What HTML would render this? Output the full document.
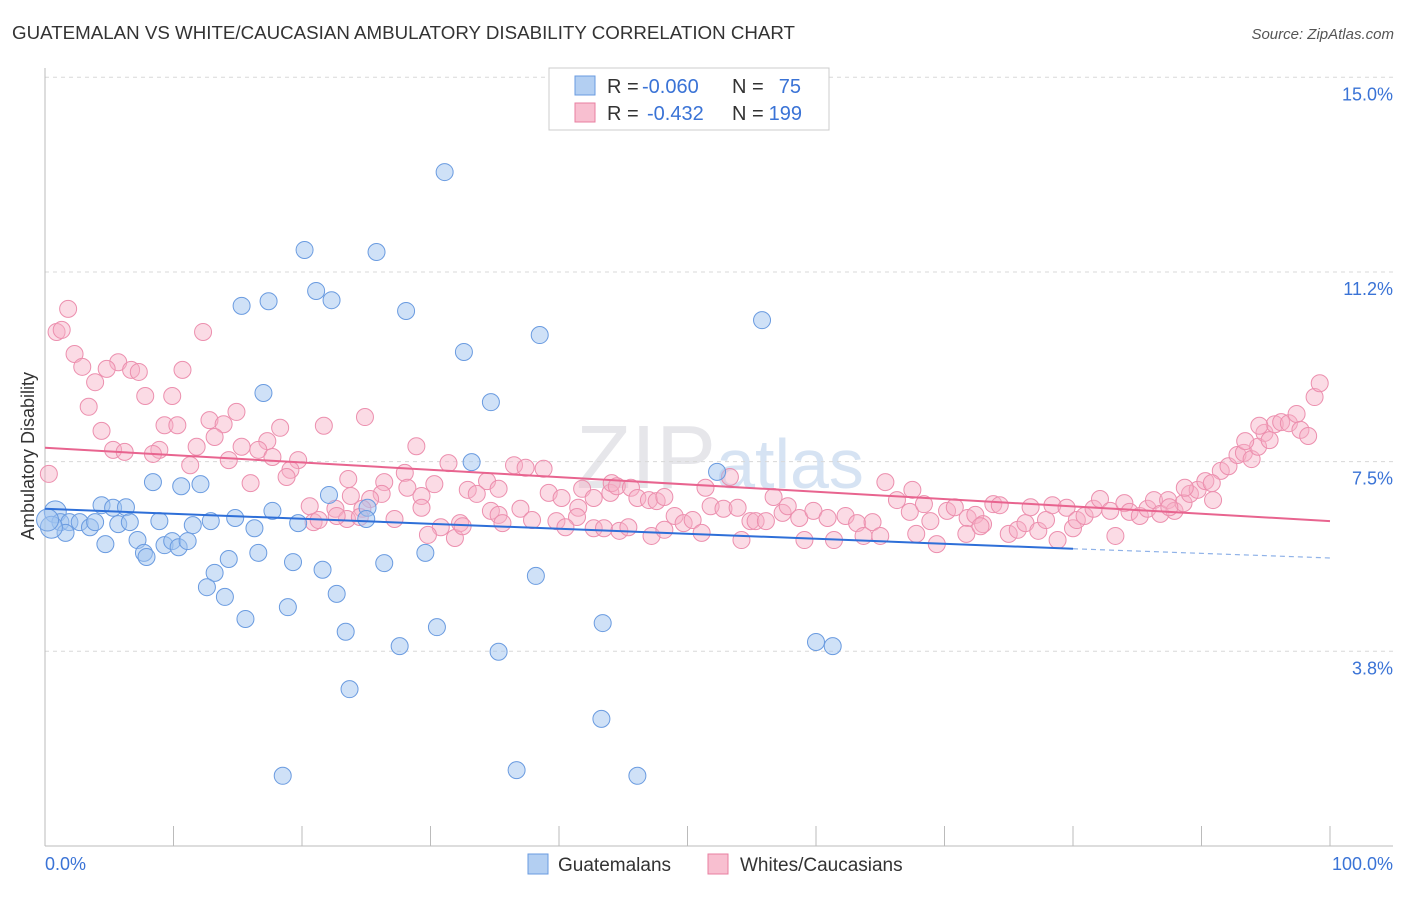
<!DOCTYPE html>
<html><head><meta charset="utf-8">
<style>
body{margin:0;background:#fff;font-family:"Liberation Sans",sans-serif;}
svg text{font-family:"Liberation Sans",sans-serif;}
</style></head>
<body>
<svg id="chart" width="1406" height="892" viewBox="0 0 1406 892" xmlns="http://www.w3.org/2000/svg">
<text x="12" y="39" font-size="18" fill="#333" textLength="783" lengthAdjust="spacingAndGlyphs">GUATEMALAN VS WHITE/CAUCASIAN AMBULATORY DISABILITY CORRELATION CHART</text>
<text x="1394" y="39" font-size="15" fill="#555" text-anchor="end" font-style="italic">Source: ZipAtlas.com</text>
<text x="720" y="488" font-size="90" fill="#e6e6ea" text-anchor="middle" font-family="Liberation Serif">ZIP<tspan fill="#d6e3f3" font-family="Liberation Sans" font-size="70">atlas</tspan></text>
<text transform="translate(34,456) rotate(-90)" font-size="18" fill="#333" text-anchor="middle">Ambulatory Disability</text>
<g id="grid"></g>
<g id="axes"></g>
<g id="pink"></g>
<g id="blue"></g>
<g id="trends"></g>
<g>
<rect x="549" y="68" width="280" height="62" fill="#fff" stroke="#ccc"/>
<rect x="575" y="76" width="20" height="19" fill="#b3cff2" stroke="#6a9be0"/>
<rect x="575" y="103" width="20" height="19" fill="#f8bfd0" stroke="#e87fa0"/>
<text x="607" y="93" font-size="20" fill="#333">R =</text>
<text x="642" y="93" font-size="20" fill="#3a73d6">-0.060</text>
<text x="732" y="93" font-size="20" fill="#333">N =</text>
<text x="801" y="93" font-size="20" fill="#3a73d6" text-anchor="end">75</text>
<text x="607" y="120" font-size="20" fill="#333">R =</text>
<text x="647" y="120" font-size="20" fill="#3a73d6">-0.432</text>
<text x="732" y="120" font-size="20" fill="#333">N =</text>
<text x="802" y="120" font-size="20" fill="#3a73d6" text-anchor="end">199</text>
</g>
<g>
<rect x="528" y="854" width="20" height="20" fill="#b3cff2" stroke="#6a9be0"/>
<text x="558" y="871" font-size="19" fill="#333">Guatemalans</text>
<rect x="708" y="854" width="20" height="20" fill="#f8bfd0" stroke="#e87fa0"/>
<text x="740" y="871" font-size="19" fill="#333">Whites/Caucasians</text>
</g>
</svg>
<script>
const yTicks=[15.0,11.2,7.5,3.8];
const yTickLabels=["15.0%","11.2%","7.5%","3.8%"];
const xTickLabels=["0.0%","100.0%"];
const blueX=[31.1,20.2,25.8,21.1,15.3,17.4,22.3,28.1,55.8,38.5,32.6,17.0,34.7,33.2,52.3,8.4,10.6,12.1,22.1,4.4,5.3,6.3,17.7,25.1,0.8,1.2,1.9,2.7,3.5,3.9,5.7,6.6,8.9,11.5,12.9,14.8,16.3,19.7,25.0,1.6,4.7,7.2,9.3,9.9,10.4,11.1,7.7,7.9,16.6,14.3,29.6,19.3,26.4,21.6,13.2,38.2,12.6,14.0,22.7,18.9,15.6,30.5,43.4,23.4,27.6,35.3,60.0,61.3,23.7,43.3,36.7,18.5,46.1,0.5,0.2];
const blueY=[13.15,11.63,11.59,10.83,10.54,10.63,10.65,10.44,10.26,9.97,9.64,8.84,8.66,7.49,7.30,7.10,7.02,7.06,6.85,6.65,6.60,6.61,6.54,6.60,6.52,6.32,6.32,6.32,6.22,6.32,6.28,6.32,6.34,6.26,6.34,6.40,6.20,6.30,6.38,6.11,5.89,5.97,5.87,5.95,5.83,5.95,5.72,5.64,5.72,5.60,5.72,5.54,5.52,5.39,5.33,5.27,5.05,4.86,4.92,4.66,4.43,4.27,4.35,4.18,3.90,3.79,3.98,3.90,3.06,2.48,1.48,1.37,1.37,6.22,6.36];
const pinkX=[1.8,0.9,1.3,12.3,2.3,2.9,5.7,4.8,6.7,7.3,3.9,10.7,3.4,7.8,9.9,14.9,12.8,13.9,9.3,10.3,4.4,13.2,18.3,21.7,24.9,17.3,5.3,6.2,8.9,8.4,11.8,15.3,16.6,14.3,17.7,19.7,28.9,11.3,19.1,18.8,0.3,16.0,28.0,23.6,26.4,28.2,31.4,34.4,36.5,37.4,38.8,30.3,29.3,32.9,33.6,35.3,26.2,25.3,23.8,20.6,22.6,24.7,23.5,20.9,21.3,22.7,24.5,27.2,29.3,30.8,29.8,31.9,32.3,34.7,35.3,37.0,32.5,35.6,37.9,39.2,40.2,41.8,41.5,42.7,44.0,44.1,44.5,45.6,46.1,47.0,47.6,48.2,41.4,42.7,43.5,44.7,45.4,39.8,40.5,47.2,48.2,49.0,49.7,50.4,51.1,51.4,51.8,52.8,53.3,53.9,54.2,54.9,55.3,56.1,56.7,57.4,57.8,58.7,59.1,59.8,60.9,61.4,62.3,63.2,63.7,64.4,65.0,65.4,66.3,67.3,67.8,68.4,68.9,69.4,70.2,70.8,71.8,72.4,73.0,73.8,74.3,75.0,75.7,76.3,76.7,77.3,77.9,78.4,78.8,79.5,80.0,80.3,80.9,81.6,82.1,82.9,83.3,84.0,84.4,85.2,85.8,86.3,86.8,87.4,87.9,88.6,89.1,89.7,90.3,90.9,91.5,92.1,92.8,93.3,93.9,94.4,94.9,95.3,95.7,96.2,96.8,97.4,97.7,98.3,98.8,99.2,93.4,94.5,88.7,87.5,90.8,71.7,67.5,72.8];
const pinkY=[10.48,10.03,10.07,10.03,9.60,9.35,9.44,9.31,9.29,9.25,9.05,9.29,8.57,8.78,8.78,8.47,8.31,8.23,8.21,8.21,8.10,7.98,8.16,8.20,8.37,7.90,7.73,7.69,7.73,7.65,7.79,7.79,7.73,7.53,7.59,7.53,7.80,7.43,7.34,7.20,7.26,7.08,7.28,7.16,7.10,6.99,7.47,7.12,7.43,7.38,7.36,7.06,6.83,6.95,6.87,6.97,6.87,6.77,6.83,6.63,6.58,6.58,6.38,6.32,6.36,6.44,6.42,6.38,6.60,6.22,6.07,6.01,6.30,6.54,6.46,6.58,6.24,6.30,6.36,6.89,6.79,6.97,6.60,6.79,6.89,7.08,7.02,6.99,6.79,6.75,6.73,6.81,6.42,6.20,6.20,6.15,6.22,6.34,6.22,6.05,6.17,6.44,6.30,6.36,6.11,6.99,6.63,6.58,7.20,6.60,5.97,6.34,6.34,6.34,6.81,6.50,6.63,6.40,5.97,6.54,6.40,5.97,6.44,6.30,6.05,6.32,6.05,7.10,6.75,6.52,6.09,6.67,6.34,5.89,6.54,6.61,6.40,6.46,6.28,6.67,6.65,6.09,6.17,6.30,6.61,6.15,6.36,6.65,5.97,6.60,6.20,6.36,6.44,6.58,6.77,6.54,6.05,6.69,6.52,6.44,6.58,6.75,6.48,6.75,6.54,6.69,6.87,6.95,7.12,6.75,7.32,7.41,7.63,7.67,7.55,7.79,8.06,7.92,8.23,8.27,8.25,8.43,8.12,8.00,8.76,9.03,7.90,8.20,6.99,6.61,7.08,6.09,6.95,6.24];
const blueTrend=[6.58,5.80,5.62]; // at 0%, 80%, 100%
const pinkTrend=[7.77,6.34];      // at 0%, 100%
const NS="http://www.w3.org/2000/svg";
const X0=45,X1=1330,Y0=846,PPU=51.25;
function sx(v){return X0+(X1-X0)*v/100;}
function sy(v){return Y0-v*PPU;}
function mk(tag,attrs,parent){const e=document.createElementNS(NS,tag);for(const k in attrs)e.setAttribute(k,attrs[k]);parent.appendChild(e);return e;}
const grid=document.getElementById('grid');
yTicks.forEach((t,i)=>{
  const l=mk('line',{x1:45,x2:1393,y1:sy(t),y2:sy(t),stroke:'#d8d8d8','stroke-dasharray':'4,4'},grid);
  
  
  const tx=mk('text',{x:1393,y:sy(t)+23,'font-size':18,fill:'#3a73d6','text-anchor':'end'},grid);
  tx.textContent=yTickLabels[i];
  
  
});
const axes=document.getElementById('axes');
const ya=mk('line',{x1:45,x2:45,y1:68,y2:846,stroke:'#bbb'},axes);


const xa=mk('line',{x1:45,x2:1393,y1:846,y2:846,stroke:'#bbb'},axes);


for(let i=0;i<=10;i++){
  const t=mk('line',{x1:sx(i*10),x2:sx(i*10),y1:826,y2:846,stroke:'#bbb'},axes);
  
  
}
const xl0=mk('text',{x:45,y:870,'font-size':18,fill:'#3a73d6'},axes);
xl0.textContent=xTickLabels[0];


const xl1=mk('text',{x:1393,y:870,'font-size':18,fill:'#3a73d6','text-anchor':'end'},axes);
xl1.textContent=xTickLabels[1];


const pg=document.getElementById('pink');
pinkX.forEach((v,i)=>{
  const c=mk('circle',{cx:sx(v),cy:sy(pinkY[i]),r:8.5,fill:'rgba(246,176,198,0.45)',stroke:'#ec8fae','stroke-width':1},pg);
  
  
});
const bg=document.getElementById('blue');
blueX.forEach((v,i)=>{
  const c=mk('circle',{cx:sx(v),cy:sy(blueY[i]),r:(i>=73||i===24)?11:8.5,fill:'rgba(160,195,240,0.5)',stroke:'#6a9be0','stroke-width':1},bg);
  
  
});
const tg=document.getElementById('trends');
const bt=mk('line',{x1:sx(0),y1:sy(blueTrend[0]),x2:sx(80),y2:sy(blueTrend[1]),stroke:'#2e6fd8','stroke-width':2},tg);


const bd=mk('line',{x1:sx(80),y1:sy(blueTrend[1]),x2:sx(100),y2:sy(blueTrend[2]),stroke:'#8fb2e8','stroke-width':1.2,'stroke-dasharray':'5,4'},tg);


const pt=mk('line',{x1:sx(0),y1:sy(pinkTrend[0]),x2:sx(100),y2:sy(pinkTrend[1]),stroke:'#e8648f','stroke-width':2},tg);


</script>
</body></html>
